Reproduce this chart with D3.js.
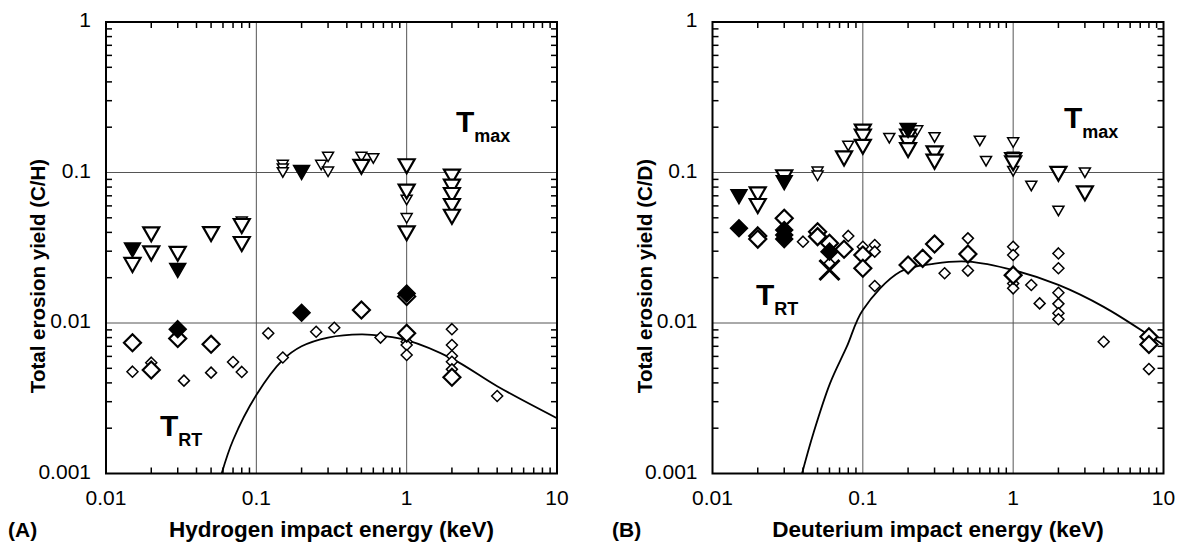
<!DOCTYPE html>
<html>
<head>
<meta charset="utf-8">
<script src="https://cdn.jsdelivr.net/npm/d3@7/dist/d3.min.js"></script>
<style>
  html, body { margin: 0; padding: 0; background: #fff; }
  svg { display: block; font-family: "Liberation Sans", Arial, Helvetica, sans-serif; }
</style>
</head>
<body>
<svg id="chart" width="1183" height="546"></svg>
<script>
// ---------- tick labels ----------
const xTickValues = [0.01, 0.1, 1, 10];
const xTickLabels = ["0.01", "0.1", "1", "10"];
const yTickValues = [0.001, 0.01, 0.1, 1];
const yTickLabels = ["0.001", "0.01", "0.1", "1"];

// ---------- Panel A (hydrogen) : [energy keV, yield] ----------
const aMaxFilled = [[0.015,0.0305],[0.03,0.0223],[0.2,0.1]];
const aMaxOpenLarge = [[0.015,0.0243],[0.02,0.0388],[0.02,0.029],[0.03,0.0288],[0.05,0.039],
  [0.08,0.0441],[0.08,0.0335],[0.5,0.109],[1,0.110],[1,0.0746],[1,0.0394],
  [2,0.094],[2,0.0805],[2,0.0709],[2,0.0599],[2,0.0508]];
const aMaxOpenSmall = [[0.08,0.047],[0.15,0.112],[0.15,0.106],[0.15,0.1],[0.27,0.112],[0.3,0.127],
  [0.3,0.101],[0.5,0.127],[0.6,0.124],[1,0.0657],[1,0.0496]];
const aRtFilled = [[0.03,0.0091],[0.2,0.0117],[1,0.0157]];
const aRtOpenLarge = [[0.015,0.0074],[0.02,0.00487],[0.03,0.0079],[0.05,0.00722],[0.5,0.0122],
  [1,0.015],[1,0.00854],[2,0.00436]];
const aRtOpenSmall = [[0.015,0.00475],[0.02,0.00545],[0.033,0.00414],[0.05,0.00468],[0.07,0.0055],
  [0.08,0.00473],[0.12,0.00854],[0.15,0.0059],[0.25,0.00875],[0.33,0.0093],[0.67,0.008],
  [1,0.0075],[1,0.00714],[1,0.00613],[2,0.0091],[2,0.00714],[2,0.00604],[2,0.00553],
  [2,0.00492],[4,0.00327]];
const aCurve = [[0.0588,0.001],[0.0701,0.00167],[0.1,0.00332],[0.15,0.00568],
  [0.2,0.0070],[0.3,0.0080],[0.5,0.0084],[0.7,0.0082],[1,0.0077],[2,0.0058],[4,0.0038],[10,0.00233]];

// ---------- Panel B (deuterium) ----------
const bMaxFilled = [[0.015,0.069],[0.03,0.0855],[0.2,0.19]];
const bMaxOpenLarge = [[0.02,0.0716],[0.02,0.0599],[0.03,0.093],[0.075,0.124],[0.1,0.187],
  [0.1,0.173],[0.1,0.148],[0.2,0.173],[0.2,0.156],[0.2,0.141],[0.3,0.134],[0.3,0.118],
  [1,0.121],[1,0.115],[2,0.098],[3,0.0727]];
const bMaxOpenSmall = [[0.05,0.101],[0.05,0.095],[0.08,0.15],[0.15,0.169],[0.23,0.19],[0.3,0.171],
  [0.6,0.162],[0.66,0.119],[1,0.158],[1,0.127],[1,0.102],[1.32,0.0814],[2,0.0555],[3,0.0997]];
const bRtFilled = [[0.015,0.0426],[0.03,0.0415],[0.03,0.0384],[0.03,0.0361],[0.06,0.0298]];
const bRtOpenLarge = [[0.02,0.0379],[0.02,0.0361],[0.03,0.0496],[0.05,0.0404],[0.05,0.0375],
  [0.06,0.0339],[0.075,0.0309],[0.1,0.0283],[0.1,0.0231],[0.2,0.0243],[0.25,0.0269],
  [0.3,0.0335],[0.5,0.0287],[1,0.0208],[8,0.0081],[8,0.0072]];
const bRtOpenSmall = [[0.04,0.0347],[0.06,0.0249],[0.08,0.0379],[0.1,0.0321],[0.12,0.033],
  [0.12,0.0298],[0.12,0.0176],[0.35,0.0214],[0.5,0.0365],[0.5,0.0223],[1,0.0321],[1,0.0283],
  [1,0.0183],[1,0.017],[1.32,0.0179],[1.5,0.0135],[2,0.029],[2,0.0231],[2,0.0159],[2,0.0134],
  [2,0.0116],[2,0.0106],[4,0.0075],[8,0.00494]];
const bRtCross = [[0.06,0.0225]];
const bCurve = [[0.0394,0.001],[0.0469,0.00185],[0.0605,0.00397],[0.0782,0.00696],[0.1,0.0122],
  [0.177,0.0219],[0.3,0.0248],[0.5,0.0256],[1,0.0225],[2,0.0179],[4,0.0128],[8,0.0083],[10,0.00714]];

const svg = d3.select("#chart");
svg.append("rect").attr("width",1183).attr("height",546).attr("fill","#fff");

function triPath(w,h){ return `M${-w/2},${-h/2}L${w/2},${-h/2}L0,${h/2}Z`; }
function diaPath(r){ return `M0,${-r}L${r},0L0,${r}L${-r},0Z`; }

function drawPanel(cfg){
  const top = 22, bottom = 473.5;
  const x = d3.scaleLog().domain([0.01,10]).range([cfg.left, cfg.left + 451]);
  const y = d3.scaleLog().domain([0.001,1]).range([bottom, top]);
  const g = svg.append("g");

  // grid lines at interior decades
  g.selectAll(".gx").data([0.1,1]).join("line")
    .attr("x1",d=>x(d)).attr("x2",d=>x(d)).attr("y1",top).attr("y2",bottom)
    .attr("stroke","#555").attr("stroke-width",1);
  g.selectAll(".gy").data([0.1,0.01]).join("line")
    .attr("y1",d=>y(d)).attr("y2",d=>y(d)).attr("x1",x(0.01)).attr("x2",x(10))
    .attr("stroke","#555").attr("stroke-width",1);

  // minor ticks, inward on all sides
  const minorX = [], minorY = [];
  [0.01,0.1,1].forEach(d=>{ for(let k=2;k<=9;k++) minorX.push(k*d); });
  [0.001,0.01,0.1].forEach(d=>{ for(let k=2;k<=9;k++) minorY.push(k*d); });
  const tl = 6;
  minorX.forEach(v=>{
    g.append("line").attr("x1",x(v)).attr("x2",x(v)).attr("y1",bottom).attr("y2",bottom-tl).attr("stroke","#000").attr("stroke-width",1.5);
    g.append("line").attr("x1",x(v)).attr("x2",x(v)).attr("y1",top).attr("y2",top+tl).attr("stroke","#000").attr("stroke-width",1.5);
  });
  minorY.forEach(v=>{
    g.append("line").attr("y1",y(v)).attr("y2",y(v)).attr("x1",x(0.01)).attr("x2",x(0.01)+tl).attr("stroke","#000").attr("stroke-width",1.5);
    g.append("line").attr("y1",y(v)).attr("y2",y(v)).attr("x1",x(10)).attr("x2",x(10)-tl).attr("stroke","#000").attr("stroke-width",1.5);
  });

  // frame
  g.append("rect").attr("x",x(0.01)).attr("y",top).attr("width",x(10)-x(0.01)).attr("height",bottom-top)
    .attr("fill","none").attr("stroke","#000").attr("stroke-width",2);

  // tick labels
  g.selectAll(".xl").data(xTickValues).join("text")
    .attr("x",d=>x(d)).attr("y",505).attr("text-anchor","middle")
    .attr("font-size",21).text((d,i)=>xTickLabels[i]);
  g.selectAll(".yl").data(yTickValues).join("text")
    .attr("x",x(0.01)-15).attr("y",d=>y(d)+5).attr("text-anchor","end")
    .attr("font-size",21).text((d,i)=>yTickLabels[i]);

  // axis titles
  g.append("text").attr("x",(x(0.01)+x(10))/2).attr("y",537).attr("text-anchor","middle")
    .attr("font-size",22.5).attr("font-weight","bold").text(cfg.xTitle);
  g.append("text").attr("x",cfg.panelX).attr("y",537)
    .attr("font-size",21).attr("font-weight","bold").text(cfg.panelLabel);
  g.append("text").attr("transform",`translate(${cfg.left-61},${276}) rotate(-90)`)
    .attr("text-anchor","middle").attr("font-size",20.5).attr("font-weight","bold").text(cfg.yTitle);

  // curve
  const line = d3.line().x(d=>x(d[0])).y(d=>y(d[1])).curve(d3.curveCatmullRom.alpha(0.5));
  g.append("path").datum(cfg.curve).attr("d",line).attr("fill","none").attr("stroke","#000").attr("stroke-width",1.8);

  const pt = d=>`translate(${x(d[0])},${y(d[1])})`;
  // diamonds
  g.selectAll(".ds").data(cfg.rtSmall).join("path").attr("transform",pt).attr("d",diaPath(5.5))
    .attr("fill","#fff").attr("stroke","#000").attr("stroke-width",1.5);
  g.selectAll(".dl").data(cfg.rtLarge).join("path").attr("transform",pt).attr("d",diaPath(8.5))
    .attr("fill","#fff").attr("stroke","#000").attr("stroke-width",2.2);
  g.selectAll(".df").data(cfg.rtFilled).join("path").attr("transform",pt).attr("d",diaPath(8.5))
    .attr("fill","#000").attr("stroke","#000").attr("stroke-width",1.5);
  if (cfg.rtCross) {
    cfg.rtCross.forEach(d=>{
      const s = 10;
      g.append("path").attr("transform",pt(d)).attr("d",`M${-s},${-s}L${s},${s}M${-s},${s}L${s},${-s}`)
        .attr("stroke","#000").attr("stroke-width",3).attr("fill","none");
    });
  }
  // triangles
  g.selectAll(".ts").data(cfg.maxSmall).join("path").attr("transform",pt).attr("d",triPath(11,9.5))
    .attr("fill","#fff").attr("stroke","#000").attr("stroke-width",1.5);
  g.selectAll(".tl").data(cfg.maxLarge).join("path").attr("transform",pt).attr("d",triPath(16,14))
    .attr("fill","#fff").attr("stroke","#000").attr("stroke-width",2.2);
  g.selectAll(".tf").data(cfg.maxFilled).join("path").attr("transform",pt).attr("d",triPath(16,14))
    .attr("fill","#000").attr("stroke","#000").attr("stroke-width",1.5);

  // annotations
  const tmax = g.append("text").attr("x",cfg.tmax[0]).attr("y",cfg.tmax[1]).attr("font-weight","bold");
  tmax.append("tspan").attr("font-size",30).text("T");
  tmax.append("tspan").attr("font-size",18).attr("dy",10).text("max");
  const trt = g.append("text").attr("x",cfg.trt[0]).attr("y",cfg.trt[1]).attr("font-weight","bold");
  trt.append("tspan").attr("font-size",30).text("T");
  trt.append("tspan").attr("font-size",18).attr("dy",10).text("RT");
}

drawPanel({
  left: 106, panelX: 8, panelLabel: "(A)",
  xTitle: "Hydrogen impact energy (keV)", yTitle: "Total erosion yield (C/H)",
  curve: aCurve, rtSmall: aRtOpenSmall, rtLarge: aRtOpenLarge, rtFilled: aRtFilled,
  maxSmall: aMaxOpenSmall, maxLarge: aMaxOpenLarge, maxFilled: aMaxFilled,
  tmax: [456, 132], trt: [160, 436]
});
drawPanel({
  left: 712.5, panelX: 612, panelLabel: "(B)",
  xTitle: "Deuterium impact energy (keV)", yTitle: "Total erosion yield (C/D)",
  curve: bCurve, rtSmall: bRtOpenSmall, rtLarge: bRtOpenLarge, rtFilled: bRtFilled, rtCross: bRtCross,
  maxSmall: bMaxOpenSmall, maxLarge: bMaxOpenLarge, maxFilled: bMaxFilled,
  tmax: [1064, 128], trt: [756, 305]
});
</script>
</body>
</html>
